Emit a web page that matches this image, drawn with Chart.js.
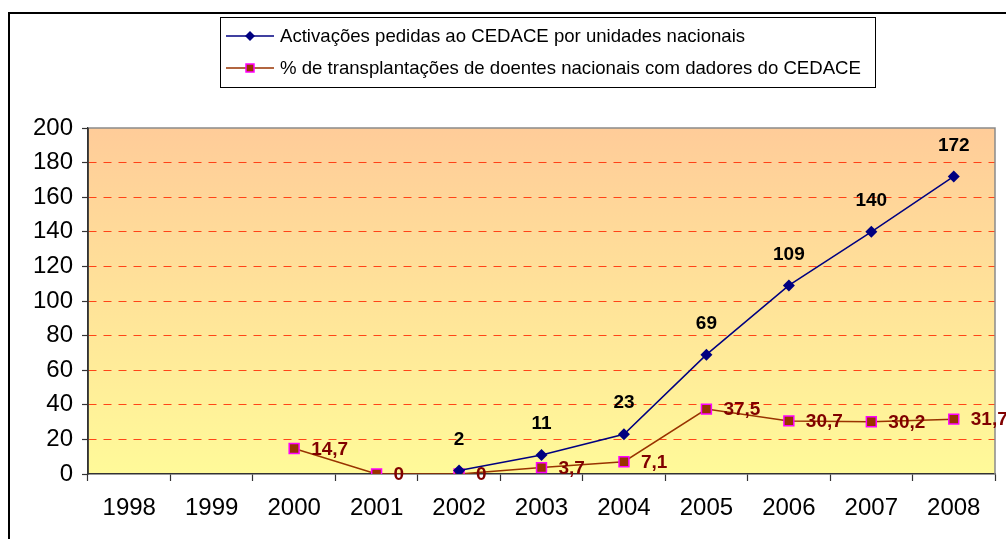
<!DOCTYPE html>
<html>
<head>
<meta charset="utf-8">
<script src="https://cdn.jsdelivr.net/npm/chart.js@4/dist/chart.umd.min.js"></script>
<style>
  html, body { margin: 0; padding: 0; background: #fff; }
  canvas { display: block; }
</style>
</head>
<body>
<canvas id="chart" width="1006" height="539"></canvas>
<script>
// chart data
const years = ["1998", "1999", "2000", "2001", "2002", "2003", "2004", "2005", "2006", "2007", "2008"];
const activacoes = [null, null, null, null, 2, 11, 23, 69, 109, 140, 172];
const transplantes = [null, null, 14.7, 0, 0, 3.7, 7.1, 37.5, 30.7, 30.2, 31.7];
const yTicks = [0, 20, 40, 60, 80, 100, 120, 140, 160, 180, 200];

const legendLabels = [
  "Activações pedidas ao CEDACE por unidades nacionais",
  "% de transplantações de doentes nacionais com dadores do CEDACE"
];

const fmt = (v) => String(v).replace(".", ",");

// gradient background + frame + legend + value labels
const decorPlugin = {
  id: "decor",
  beforeDraw(chart) {
    const { ctx, chartArea: a } = chart;
    ctx.save();
    const g = ctx.createLinearGradient(0, a.top, 0, a.bottom);
    g.addColorStop(0, "#FFCC99");
    g.addColorStop(1, "#FFFA99");
    ctx.fillStyle = g;
    ctx.fillRect(a.left, a.top, a.right - a.left, a.bottom - a.top);
    ctx.restore();
  },
  beforeDatasetsDraw(chart) {
    const { ctx, chartArea: a } = chart;
    ctx.save();
    // top + right gray border of plot area
    ctx.strokeStyle = "#8a8a8a";
    ctx.lineWidth = 1.5;
    ctx.beginPath();
    ctx.moveTo(a.left, a.top);
    ctx.lineTo(a.right, a.top);
    ctx.lineTo(a.right, a.bottom);
    ctx.stroke();
    // solid left axis line
    ctx.strokeStyle = "#333";
    ctx.beginPath();
    ctx.moveTo(a.left, a.top);
    ctx.lineTo(a.left, a.bottom);
    ctx.stroke();
    ctx.restore();
  },
  afterDraw(chart) {
    const { ctx } = chart;
    ctx.save();

    // outer frame (top and left only visible)
    ctx.strokeStyle = "#000";
    ctx.lineWidth = 2;
    ctx.beginPath();
    ctx.moveTo(9, 539);
    ctx.lineTo(9, 13);
    ctx.lineTo(1006, 13);
    ctx.stroke();

    // legend box
    ctx.fillStyle = "#fff";
    ctx.fillRect(220, 17, 655, 70);
    ctx.strokeStyle = "#000";
    ctx.lineWidth = 1;
    ctx.strokeRect(220.5, 17.5, 655, 70);

    const rows = [36, 68];
    ctx.font = "18.6px 'Liberation Sans', Arial, sans-serif";
    ctx.textBaseline = "middle";
    ctx.textAlign = "left";
    rows.forEach((y, i) => {
      ctx.lineWidth = 1.5;
      ctx.strokeStyle = i === 0 ? "#000080" : "#993300";
      ctx.beginPath();
      ctx.moveTo(226, y);
      ctx.lineTo(274, y);
      ctx.stroke();
      if (i === 0) {
        ctx.fillStyle = "#000080";
        ctx.beginPath();
        ctx.moveTo(250, y - 5);
        ctx.lineTo(255, y);
        ctx.lineTo(250, y + 5);
        ctx.lineTo(245, y);
        ctx.closePath();
        ctx.fill();
      } else {
        ctx.fillStyle = "#993300";
        ctx.fillRect(246, y - 4, 8, 8);
        ctx.strokeStyle = "#FF00FF";
        ctx.lineWidth = 1.5;
        ctx.strokeRect(246, y - 4, 8, 8);
      }
      ctx.fillStyle = "#000";
      ctx.fillText(legendLabels[i], 280, y + 1, i === 0 ? 466 : 584);
    });

    // value labels
    ctx.font = "bold 19px 'Liberation Sans', Arial, sans-serif";
    const m0 = chart.getDatasetMeta(0);
    ctx.fillStyle = "#000";
    ctx.textAlign = "center";
    m0.data.forEach((pt, i) => {
      if (activacoes[i] == null) return;
      ctx.fillText(fmt(activacoes[i]), pt.x, pt.y - 31);
    });
    const m1 = chart.getDatasetMeta(1);
    ctx.fillStyle = "#800000";
    ctx.textAlign = "left";
    m1.data.forEach((pt, i) => {
      if (transplantes[i] == null) return;
      ctx.fillText(fmt(transplantes[i]), pt.x + 17, pt.y + 1);
    });

    ctx.restore();
  }
};

new Chart(document.getElementById("chart"), {
  type: "line",
  data: {
    labels: years,
    datasets: [
      {
        label: legendLabels[0],
        data: activacoes,
        borderColor: "#000080",
        backgroundColor: "#000080",
        borderWidth: 1.5,
        pointStyle: "rectRot",
        pointRadius: 6,
        pointBorderWidth: 0,
        tension: 0,
        spanGaps: false
      },
      {
        label: legendLabels[1],
        data: transplantes,
        borderColor: "#993300",
        backgroundColor: "#993300",
        borderWidth: 1.5,
        pointStyle: "rect",
        pointRadius: 7,
        pointBorderColor: "#FF00FF",
        pointBorderWidth: 1.5,
        tension: 0
      }
    ]
  },
  options: {
    responsive: false,
    animation: false,
    events: [],
    layout: { padding: { top: 128, right: 11, left: 0, bottom: 0 } },
    plugins: {
      legend: { display: false },
      tooltip: { enabled: false }
    },
    scales: {
      x: {
        offset: true,
        afterFit: (s) => { s.height = 65; },
        grid: {
          offset: true,
          drawOnChartArea: false,
          tickLength: 7,
          tickColor: "#333",
          tickWidth: 1.2
        },
        border: { color: "#333", width: 1.5 },
        ticks: {
          color: "#000",
          padding: 13,
          maxRotation: 0,
          font: { family: "'Liberation Sans', Arial, sans-serif", size: 24 }
        }
      },
      y: {
        min: 0,
        max: 200,
        afterFit: (s) => { s.width = 88; },
        afterBuildTicks: (s) => { s.ticks = yTicks.map((v) => ({ value: v })); },
        grid: {
          color: (c) => (c.tick && (c.tick.value === 0 || c.tick.value === 200) ? "rgba(0,0,0,0)" : "rgba(255,40,0,0.85)"),
          lineWidth: 1,
          tickLength: 6,
          tickColor: "#333",
          tickBorderDash: [],
          tickWidth: 1.2
        },
        border: { color: "#333", width: 1.5, dash: [8, 7] },
        ticks: {
          color: "#000",
          padding: 9,
          font: { family: "'Liberation Sans', Arial, sans-serif", size: 24 }
        }
      }
    }
  },
  plugins: [decorPlugin]
});
</script>
</body>
</html>
